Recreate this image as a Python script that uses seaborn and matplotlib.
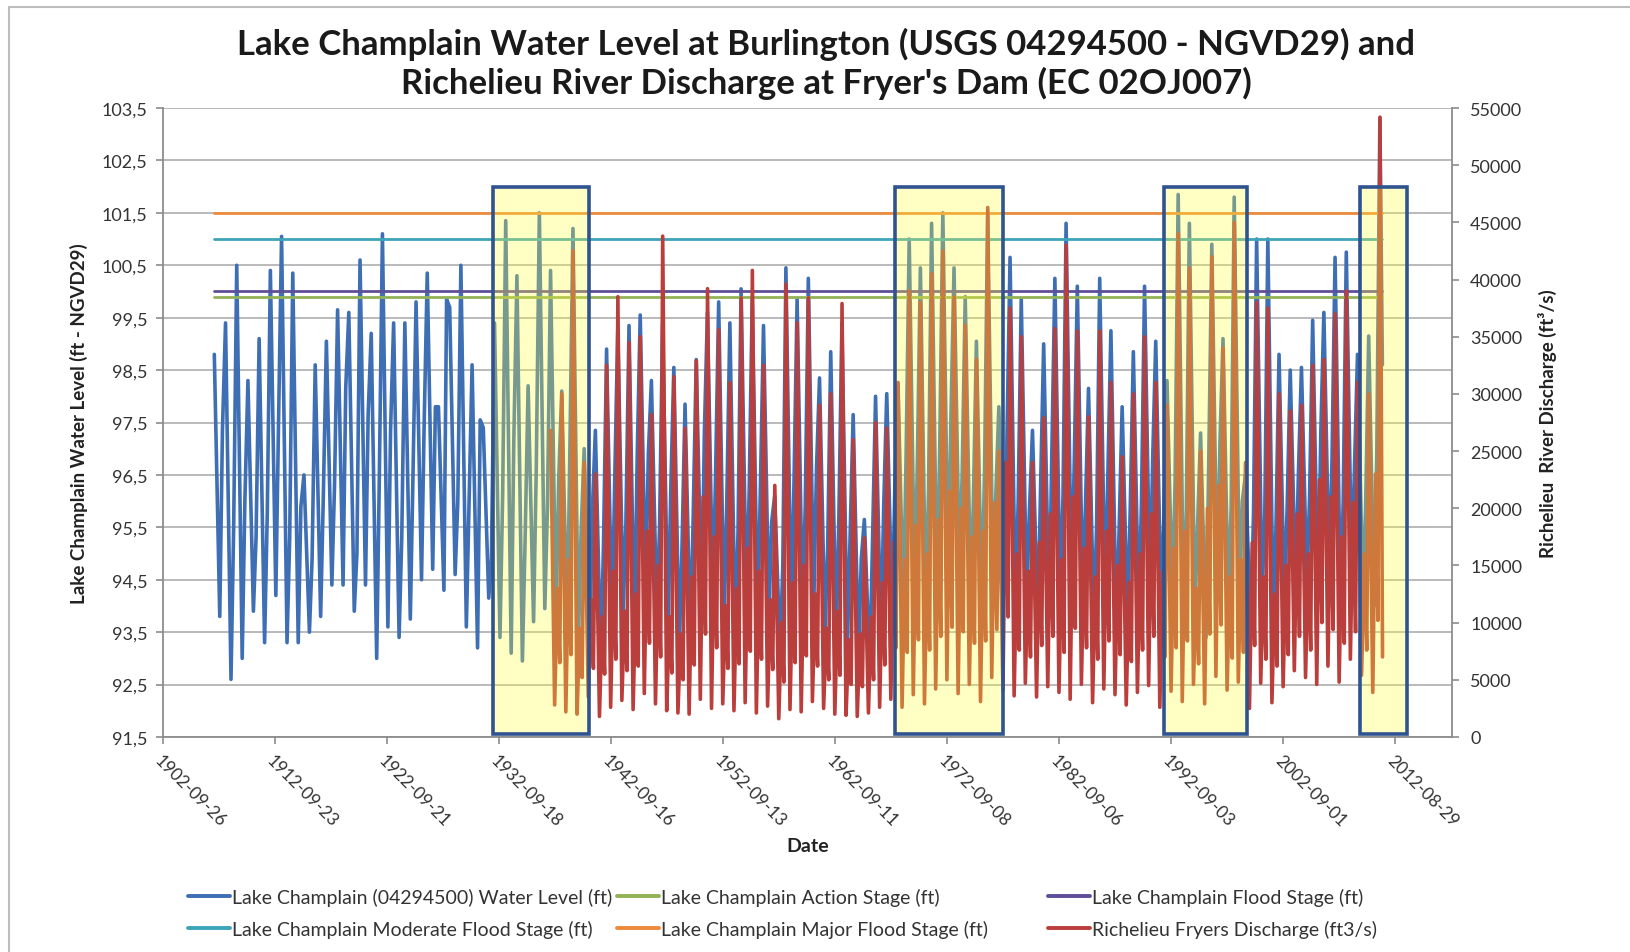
import pandas as pd
import matplotlib
matplotlib.use('Agg')
import matplotlib.pyplot as plt
import matplotlib.dates as mdates
from matplotlib.patches import Rectangle
from matplotlib.lines import Line2D
import seaborn as sns

# Lake Champlain at Burlington, one value per year (ft, NGVD29)
lake_years = list(range(1907, 2012))
lake_peak = [
    98.8, 99.4, 100.5, 98.3, 99.1, 100.4, 101.05, 100.35, 96.5, 98.6,
    99.05, 99.65, 99.6, 100.6, 99.2, 101.1, 99.4, 99.4, 99.8, 100.35,
    97.8, 99.7, 100.5, 98.6, 97.4, 99.4, 101.35, 100.3, 98.2, 101.5,
    100.4, 98.1, 101.2, 97.0, 97.35, 98.9, 99.3, 99.35, 99.55, 98.3,
    99.4, 98.55, 97.85, 98.7, 99.6, 99.8, 99.4, 100.05, 99.9, 99.35,
    96.1, 100.45, 99.85, 100.25, 98.35, 98.85, 99.4, 97.65, 95.65, 98.0,
    98.05, 98.2, 101.0, 100.45, 101.3, 101.5, 100.45, 99.9, 99.05, 101.45,
    97.8, 100.65, 99.85, 97.35, 99.0, 100.25, 101.3, 100.1, 98.15, 100.25,
    99.25, 97.8, 98.85, 100.1, 99.05, 98.3, 101.85, 101.3, 97.3, 100.9,
    99.1, 101.8, 96.5, 101.0, 101.0, 98.8, 98.5, 98.55, 99.45, 99.6,
    100.65, 100.75, 98.8, 99.15, 103.3]
lake_low = [
    93.8, 92.6, 93.0, 93.9, 93.3, 94.2, 93.3, 93.3, 93.5, 93.8,
    94.4, 94.4, 93.9, 94.4, 93.0, 93.6, 93.4, 93.75, 94.5, 94.7,
    94.3, 94.6, 93.6, 93.2, 94.15, 93.4, 93.1, 92.95, 93.7, 93.95,
    93.7, 93.5, 93.3, 93.0, 92.9, 93.6, 93.9, 93.4, 94.2, 93.8,
    93.5, 93.2, 93.3, 93.9, 94.1, 93.7, 93.4, 94.0, 93.6, 93.8,
    93.1, 93.7, 93.9, 94.0, 93.5, 93.3, 93.2, 93.0, 92.8, 93.3,
    93.8, 94.0, 94.3, 93.9, 94.1, 94.5, 94.6, 94.2, 94.0, 94.4,
    94.3, 93.9, 94.1, 93.6, 93.8, 94.0, 94.3, 94.1, 93.6, 94.0,
    93.5, 93.7, 93.8, 94.2, 93.9, 94.1, 93.8, 93.9, 93.4, 94.3,
    94.0, 94.1, 93.6, 94.2, 93.7, 94.0, 94.3, 94.4, 94.1, 94.5,
    94.0, 94.6, 94.2, 94.0, 98.6]
lake_winter = [
    97.35, 95.5, 96.0, 95.3, 95.75, 97.45, 95.3, 95.9, 94.9, 96.1,
    96.3, 98.15, 95.0, 97.65, 96.5, 97.35, 95.3, 96.5, 97.5, 97.8,
    99.85, 96.0, 95.9, 97.55, 94.9, 96.1, 97.2, 95.2, 96.6, 95.9,
    96.4, 97.0, 95.4, 95.8, 95.2, 96.4, 95.6, 96.8, 96.9, 95.5,
    96.2, 95.1, 95.7, 97.3, 96.5, 96.0, 95.4, 96.2, 96.3, 95.6,
    94.8, 96.4, 95.9, 96.6, 95.1, 95.7, 95.3, 94.9, 95.2, 95.9,
    96.3, 96.9, 96.7, 96.2, 97.0, 97.6, 96.5, 96.0, 96.6, 96.1,
    97.3, 96.0, 95.8, 96.3, 96.9, 96.1, 96.7, 95.9, 95.6, 96.5,
    95.4, 95.9, 96.0, 96.8, 95.7, 96.4, 95.8, 95.5, 96.7, 97.1,
    95.9, 96.0, 95.8, 95.7, 95.5, 95.9, 96.5, 96.1, 97.3, 96.8,
    96.0, 96.6, 95.9, 97.0]

# Richelieu River at Fryer's Dam (ft3/s)
river_years = list(range(1937, 2012))
river_peak = [
    26800, 30000, 42500, 24000, 23000, 32500, 38500, 34500, 35000, 28200,
    43800, 31500, 27000, 32900, 39200, 35600, 31000, 38400, 40800, 32500,
    22000, 39600, 36200, 38400, 29000, 30000, 37900, 26000, 17400, 27500,
    27000, 31000, 39000, 38000, 40500, 42500, 38500, 36000, 33000, 46300,
    25000, 37500, 35000, 24000, 27900, 35700, 43000, 35500, 28000, 35500,
    31000, 24500, 30000, 35000, 31000, 29000, 44000, 41000, 25000, 42000,
    34000, 45000, 24000, 38000, 37500, 30000, 28500, 29000, 32500, 33000,
    37000, 39000, 31000, 30000, 54200]
river_summer_low = [
    2800, 2200, 2000, 3500, 1800, 2600, 3200, 2400, 3800, 2900,
    2300, 2100, 2000, 3300, 2500, 2900, 2300, 3000, 2100, 2700,
    1600, 2400, 2200, 3100, 2500, 2000, 1900, 1800, 2100, 2600,
    3300, 2600, 3700, 2900, 4200, 5000, 3800, 4600, 3100, 5200,
    4100, 3600, 4700, 3500, 4400, 3900, 3300, 4600, 3000, 4200,
    3700, 2800, 3900, 4500, 2600, 4000, 3100, 4600, 2900, 5300,
    4100, 4800, 2500, 4700, 3000, 4400, 5800, 5200, 4600, 6200,
    4800, 6800, 5400, 3900, 7000]
river_fall = [
    13000, 15500, 9500, 12000, 10500, 14500, 11000, 12500, 18000, 15000,
    10500, 9000, 14000, 21000, 17500, 11500, 13000, 16500, 14500, 12000,
    10000, 13500, 15000, 12500, 9500, 11000, 8500, 9000, 10500, 13500,
    17000, 15500, 18500, 16000, 19000, 21500, 20000, 17500, 18000, 20500,
    24000, 16000, 14500, 17000, 19500, 15500, 21000, 16500, 14000, 18000,
    15000, 13500, 16000, 19500, 14500, 16500, 18000, 13000, 20000, 22000,
    14000, 15500, 17000, 14000, 12500, 15000, 19500, 16000, 22500, 21000,
    17500, 20500, 16000, 23000]
river_winter_low = [
    6500, 7200, 5200, 6000, 5500, 6800, 5800, 6200, 8200, 7000,
    5600, 5000, 6300, 9000, 7800, 6000, 6400, 7500, 6800, 5900,
    4800, 6500, 7100, 6200, 5000, 5400, 4600, 4400, 5000, 6300,
    7800, 7400, 8500, 7600, 8800, 9600, 9200, 8200, 8400, 9400,
    10500, 7600, 7000, 8000, 8800, 7400, 9500, 7800, 6800, 8400,
    7200, 6600, 7600, 8800, 7000, 7800, 8400, 6400, 9000, 9800,
    6900, 7400, 8000, 6800, 6200, 7200, 8800, 7600, 10000, 9400,
    8200, 9200, 7600, 10200]

# NWS stages (ft)
stage_names = ['Lake Champlain Action Stage (ft)', 'Lake Champlain Flood Stage (ft)',
               'Lake Champlain Moderate Flood Stage (ft)', 'Lake Champlain Major Flood Stage (ft)']
stage_values = [99.9, 100.0, 101.0, 101.5]
stage_colors = ['#93B256', '#5F4E98', '#3FA4BA', '#EE8A3C']

# highlighted high-water periods
box_starts = ['1932-03-10', '1968-02-01', '1992-01-15', '2009-08-01']
box_ends = ['1940-10-01', '1977-09-20', '1999-07-01', '2013-09-20']

tick_start = '1902-09-26'
title1 = 'Lake Champlain Water Level at Burlington (USGS 04294500 - NGVD29) and'
title2 = "Richelieu River Discharge at Fryer's Dam (EC 02OJ007)"

blue = '#3E6EB3'
red = '#BA3E3B'

# build series
lake_dates, lake_vals = [], []
for i, yr in enumerate(lake_years):
    lake_dates.append(pd.Timestamp(f'{yr}-04-25'))
    lake_vals.append(lake_peak[i])
    if yr < lake_years[-1]:
        lake_dates.append(pd.Timestamp(f'{yr}-10-20'))
        lake_vals.append(lake_low[i])
        lake_dates.append(pd.Timestamp(f'{yr + 1}-01-15'))
        lake_vals.append(lake_winter[i])
    else:
        lake_dates.append(pd.Timestamp(f'{yr}-07-15'))
        lake_vals.append(lake_low[i])
lake = pd.DataFrame({'date': lake_dates, 'level': lake_vals})

riv_dates, riv_vals = [], []
for i, yr in enumerate(river_years):
    riv_dates.append(pd.Timestamp(f'{yr}-04-28'))
    riv_vals.append(river_peak[i])
    if yr < river_years[-1]:
        riv_dates.append(pd.Timestamp(f'{yr}-09-05'))
        riv_vals.append(river_summer_low[i])
        riv_dates.append(pd.Timestamp(f'{yr}-12-05'))
        riv_vals.append(river_fall[i])
        riv_dates.append(pd.Timestamp(f'{yr + 1}-02-20'))
        riv_vals.append(river_winter_low[i])
    else:
        riv_dates.append(pd.Timestamp(f'{yr}-07-20'))
        riv_vals.append(river_summer_low[i])
river = pd.DataFrame({'date': riv_dates, 'flow': riv_vals})

sns.set_theme(style='white')
plt.rcParams['font.family'] = ['Lato', 'DejaVu Sans']

W, H = 1631, 953
fig = plt.figure(figsize=(W / 100, H / 100), dpi=100)
x0, x1, ytop, ybot = 163, 1452, 109, 738
ax = fig.add_axes([x0 / W, 1 - ybot / H, (x1 - x0) / W, (ybot - ytop) / H])
ax2 = ax.twinx()

sns.lineplot(data=lake, x='date', y='level', ax=ax, color=blue, lw=2.6,
             estimator=None, sort=False, zorder=2)
d0, d1 = lake['date'].iloc[0], lake['date'].iloc[-1]
for v, c in zip(stage_values, stage_colors):
    ax.plot([d0, d1], [v, v], color=c, lw=2.0, zorder=3)

sns.lineplot(data=river, x='date', y='flow', ax=ax2, color=red, lw=2.6,
             estimator=None, sort=False, zorder=2)

for s, e in zip(box_starts, box_ends):
    xs = mdates.date2num(pd.Timestamp(s))
    xe = mdates.date2num(pd.Timestamp(e))
    ax2.add_patch(Rectangle((xs, 250), xe - xs, 47800, facecolor=(1, 1, 0.23, 0.3),
                            edgecolor='#2F5390', lw=2.6, zorder=10))

# axes, ticks
t0 = pd.Timestamp(tick_start)
ticks = pd.date_range(t0, periods=12, freq='3650D')
ax.set_xlim(mdates.date2num(t0), mdates.date2num(t0 + pd.Timedelta(days=42008)))
ax.set_xticks(mdates.date2num(ticks))
ax.set_xticklabels([t.strftime('%Y-%m-%d') for t in ticks], rotation=-45,
                   ha='left', va='top', rotation_mode='anchor', fontsize=12.5, color='#333333')

left_ticks = [91.5 + i for i in range(13)]
ax.set_ylim(91.5, 103.5)
ax.set_yticks(left_ticks)
ax.set_yticklabels([f'{v:.1f}'.replace('.', ',') for v in left_ticks], fontsize=13, color='#333333')
right_ticks = list(range(0, 55001, 5000))
ax2.set_ylim(0, 55000)
ax2.set_yticks(right_ticks)
ax2.set_yticklabels([str(v) for v in right_ticks], fontsize=13, color='#333333')

ax.grid(False)
ax2.grid(False)
ax.yaxis.grid(True, color='#B4B4B4', lw=1.3)
ax.set_axisbelow(True)
for sp in ['top', 'right']:
    ax.spines[sp].set_visible(False)
for sp in ['top', 'left', 'bottom']:
    ax2.spines[sp].set_visible(False)
for sp in [ax.spines['left'], ax.spines['bottom'], ax2.spines['right']]:
    sp.set_color('#8C8C8C')
    sp.set_linewidth(1.3)
ax.tick_params(axis='both', which='major', direction='out', length=5, width=1.2,
               color='#8C8C8C', left=True, bottom=True, pad=6)
ax2.tick_params(axis='y', direction='out', length=5, width=1.2, color='#8C8C8C', right=True, pad=8)

ax.set_xlabel('Date', fontsize=14, fontweight='bold', color='#222222')
ax.xaxis.set_label_coords(0.5, (ybot - 838) / (ybot - ytop))
ax.set_ylabel('Lake Champlain Water Level (ft - NGVD29)', fontsize=13.5, fontweight='bold', color='#222222')
ax.yaxis.set_label_coords((88 - x0) / (x1 - x0), 0.5)
ax2.set_ylabel('Richelieu  River Discharge (ft³/s)', fontsize=13.5, fontweight='bold', color='#222222')
ax2.yaxis.set_label_coords((1538 - x0) / (x1 - x0), 0.5)

fig.text(826 / W, 1 - 44 / H, title1, ha='center', va='center', fontsize=25, fontweight='bold', color='#1A1A1A')
fig.text(826 / W, 1 - 83 / H, title2, ha='center', va='center', fontsize=25, fontweight='bold', color='#1A1A1A')

# legend in three columns, placed like the original
labels = ['Lake Champlain (04294500) Water Level (ft)', stage_names[0], stage_names[1],
          stage_names[2], stage_names[3], 'Richelieu Fryers Discharge (ft3/s)']
colors = [blue, stage_colors[0], stage_colors[1], stage_colors[2], stage_colors[3], red]
handles = [Line2D([], [], color=c, lw=2.8) for c in colors]
col_x = [188, 617, 1048]
for j in range(3):
    fig.legend([handles[j], handles[j + 3]], [labels[j], labels[j + 3]], loc='upper left',
               bbox_to_anchor=(col_x[j] / W, 1 - 889 / H), frameon=False, fontsize=14,
               handlelength=2.15, handletextpad=0.12, labelspacing=0.72, borderpad=0,
               borderaxespad=0, labelcolor='#333333')

fig.patches.append(Rectangle((9 / W, -0.1), 1.2, 1.1 - 8 / H, transform=fig.transFigure,
                             fill=False, edgecolor='#BDBDBD', lw=1.5))

fig.savefig('out.png', dpi=100)
